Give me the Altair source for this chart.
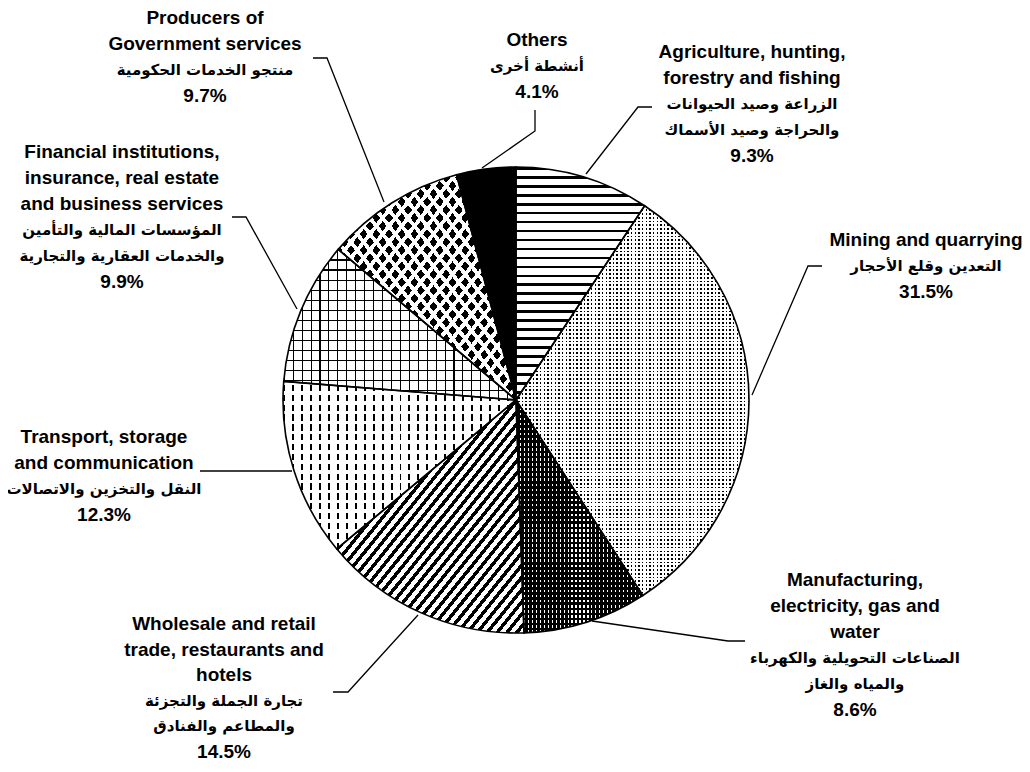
import math
import altair as alt
import pandas as pd

# ---------------- data ----------------
sectors = ["Agriculture", "Mining", "Manufacturing", "Wholesale",
           "Transport", "Financial", "Producers", "Others"]
values = [9.3, 31.5, 8.6, 14.5, 12.3, 9.9, 9.7, 4.1]
labels_en = [
    ["Agriculture, hunting,", "forestry and fishing"],
    ["Mining and quarrying"],
    ["Manufacturing,", "electricity, gas and", "water"],
    ["Wholesale and retail", "trade, restaurants and", "hotels"],
    ["Transport, storage", "and communication"],
    ["Financial institutions,", "insurance, real estate", "and business services"],
    ["Producers of", "Government services"],
    ["Others"],
]
labels_ar = [
    ["الزراعة وصيد الحيوانات", "والحراجة وصيد الأسماك"],
    ["التعدين وقلع الأحجار"],
    ["الصناعات التحويلية والكهرباء", "والمياه والغاز"],
    ["تجارة الجملة والتجزئة", "والمطاعم والفنادق"],
    ["النقل والتخزين والاتصالات"],
    ["المؤسسات المالية والتأمين", "والخدمات العقارية والتجارية"],
    ["منتجو الخدمات الحكومية"],
    ["أنشطة أخرى"],
]

# ---------------- layout (page pixels) ----------------
M = 8
W, H = 1030 - 2 * M, 772 - 2 * M
CX, CY, R = 516 - M, 400 - M, 233
label_anchor = [(752, 52), (926, 240), (855, 580), (224, 624),
                (104, 437), (122, 152), (205, 18), (537, 40)]
line_h = [26, 26, 26, 25.5, 26, 26, 26, 26]
leaders = [
    [(652, 107), (638, 107), (586, 174)],
    [(822, 266), (808, 266), (752, 395)],
    [(745, 641), (728, 641), (592, 621)],
    [(333, 692), (348, 692), (418, 615)],
    [(200, 471), (292, 471)],
    [(232, 217), (246, 217), (297, 309)],
    [(313, 58), (327, 58), (384, 202)],
    [(535, 110), (535, 131), (482, 168)],
]

total = sum(values)
df = pd.DataFrame({"idx": list(range(len(sectors))), "sector": sectors, "value": values})

text_rows = []
for i, s in enumerate(sectors):
    ax, ay = label_anchor[i]
    lh = line_h[i]
    k = 0
    for t in labels_en[i]:
        text_rows.append({"sector": s, "x": ax - M, "y": ay - M + k * lh, "t": t, "kind": "en"})
        k += 1
    for t in labels_ar[i]:
        text_rows.append({"sector": s, "x": ax - M, "y": ay - M + k * lh, "t": t, "kind": "ar"})
        k += 1
    text_rows.append({"sector": s, "x": ax - M, "y": ay - M + k * lh,
                      "t": f"{values[i]}%", "kind": "pct"})
text_df = pd.DataFrame(text_rows)

line_rows = []
for i, s in enumerate(sectors):
    for k, (px, py) in enumerate(leaders[i]):
        line_rows.append({"sector": s, "k": k, "x": px - M, "y": py - M})
line_df = pd.DataFrame(line_rows)

# ---------------- patterns via striped gradients ----------------
DIRS = {"h": (0, 0, 0, 1), "v": (0, 0, 1, 0), "d": (0, 0, 1, 1), "a": (1, 0, 0, 1)}
CLEAR = "rgba(255,255,255,0)"


def stripes(n, duty, on, off, direction):
    x1, y1, x2, y2 = DIRS[direction]
    stops = []
    for k in range(n):
        a, b, c = k / n, (k + duty) / n, (k + 1) / n
        stops += [{"offset": round(a, 5), "color": on},
                  {"offset": round(b, 5), "color": on},
                  {"offset": round(b, 5), "color": off},
                  {"offset": round(c, 5), "color": off}]
    return {"gradient": "linear", "x1": x1, "y1": y1, "x2": x2, "y2": y2, "stops": stops}


fills = {
    "Agriculture": [stripes(26, 0.3, "black", "white", "h")],
    "Mining": [stripes(104, 0.45, "black", "white", "h"),
               stripes(64, 0.6, "white", CLEAR, "v")],
    "Manufacturing": [stripes(32, 0.3, "white", "black", "v"),
                      stripes(46, 0.5, "black", CLEAR, "h")],
    "Wholesale": [stripes(38, 0.45, "black", "white", "d")],
    "Transport": [stripes(26, 0.22, "black", "white", "v"),
                  stripes(17, 0.35, "white", CLEAR, "h")],
    "Financial": [stripes(15, 0.15, "black", "white", "h"),
                  stripes(26, 0.12, "black", CLEAR, "v")],
    "Producers": ["black",
                  stripes(28, 0.38, "white", CLEAR, "d"),
                  stripes(28, 0.38, "white", CLEAR, "a")],
    "Others": ["black"],
}

base = (alt.Chart(df)
        .transform_window(cum="sum(value)", sort=[alt.SortField("idx")], frame=[None, 0])
        .transform_calculate(start="datum.cum - datum.value"))

theta_scale = alt.Scale(domain=[0, total], range=[0, 2 * math.pi])
arc_enc = dict(
    theta=alt.Theta("start:Q", scale=theta_scale),
    theta2=alt.Theta2("cum:Q"),
    x=alt.value(CX),
    y=alt.value(CY),
)

layers = []
for s in sectors:
    for f in fills[s]:
        layers.append(
            base.transform_filter(alt.datum.sector == s)
            .mark_arc(radius=R, fill=f, strokeWidth=0)
            .encode(**arc_enc)
        )

outline = base.mark_arc(radius=R, fill="transparent", stroke="black", strokeWidth=1.6).encode(**arc_enc)

leader = alt.Chart(line_df).mark_line(color="black", strokeWidth=1.3).encode(
    x=alt.X("x:Q", scale=None, axis=None),
    y=alt.Y("y:Q", scale=None, axis=None),
    detail="sector:N",
    order="k:Q",
)

txt_base = alt.Chart(text_df).encode(
    x=alt.X("x:Q", scale=None, axis=None),
    y=alt.Y("y:Q", scale=None, axis=None),
    text="t:N",
)
en_txt = txt_base.transform_filter(alt.datum.kind != "ar").mark_text(
    font="Liberation Sans, Arial, sans-serif", fontSize=19, fontWeight="bold",
    color="black", align="center", baseline="middle")
ar_txt = txt_base.transform_filter(alt.datum.kind == "ar").mark_text(
    font="DejaVu Sans, sans-serif", fontSize=15, fontWeight="bold",
    color="black", align="center", baseline="middle", dir="rtl")

chart = alt.layer(*layers, outline, leader, en_txt, ar_txt).properties(
    width=W, height=H,
    autosize=alt.AutoSizeParams(type="none"),
    padding=0,
).configure_view(stroke=None)

chart.save("out.html", embed_options={"renderer": "svg", "actions": False})
